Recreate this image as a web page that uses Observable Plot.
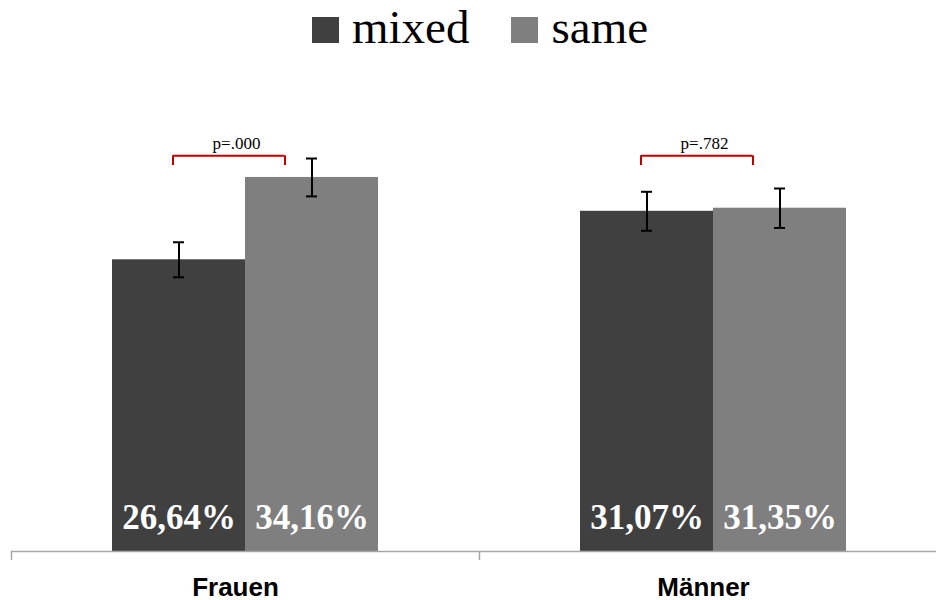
<!DOCTYPE html>
<html><head><meta charset="utf-8">
<script src="https://cdn.jsdelivr.net/npm/d3@7"></script>
<script src="https://cdn.jsdelivr.net/npm/@observablehq/plot@0.6"></script>
<style>
body{margin:0;background:#fff;overflow:hidden;width:936px;height:600px}
#legend{height:60px;box-sizing:border-box;padding:4px 0 0 312px;font-family:"Liberation Serif",serif;font-size:47px;line-height:46px;white-space:nowrap;color:#000}
.sw{display:inline-block;width:27px;height:26px;margin-right:13px}
.item{display:inline-block;margin-right:42px}
</style></head><body>
<div id="legend"></div>
<div id="chart"></div>
<script>
const categories = ["Frauen", "Männer"];
const seriesNames = ["mixed", "same"];
const seriesColors = ["#404040", "#7f7f7f"];
const mixedValues = [26.64, 31.07];
const sameValues = [34.16, 31.35];
const mixedErrors = [1.6, 1.78];
const sameErrors = [1.73, 1.8];
const pLabels = ["p=.000", "p=.782"];

const rows = categories.flatMap((c, i) => [
  {category: c, series: "mixed", value: mixedValues[i], err: mixedErrors[i]},
  {category: c, series: "same", value: sameValues[i], err: sameErrors[i]}
]);
const pRows = categories.map((c, i) => ({category: c, p: pLabels[i]}));
const fmt = v => v.toFixed(2).replace(".", ",") + "%";

// legend
const legend = document.getElementById("legend");
seriesNames.forEach((s, i) => {
  const it = document.createElement("span");
  it.className = "item";
  const sw = document.createElement("span");
  sw.className = "sw";
  sw.style.background = seriesColors[i];
  it.appendChild(sw);
  it.appendChild(document.createTextNode(s));
  legend.appendChild(it);
});

const red = "#c00000";
const chart = Plot.plot({
  width: 936,
  height: 540,
  marginTop: 53,
  marginBottom: 49,
  marginLeft: 0,
  marginRight: 0,
  style: {fontFamily: "Liberation Serif, serif", background: "white"},
  fx: {domain: categories, range: [11, 947], padding: 0},
  x: {domain: seriesNames, paddingInner: 0, paddingOuter: 0.7463, axis: null},
  y: {domain: [0, 40], axis: null},
  color: {domain: seriesNames, range: seriesColors},
  marks: [
    Plot.barY(rows, {fx: "category", x: "series", y: "value", fill: "series"}),
    Plot.ruleY([0], {stroke: "#a6a6a6", strokeWidth: 1.5}),
    Plot.axisFx({anchor: "bottom", tickSize: 9, tickFormat: () => "", dx: -234, stroke: "#a6a6a6", strokeWidth: 1.5, label: null}),
    Plot.ruleX(rows, {fx: "category", x: "series", y1: d => d.value - d.err, y2: d => d.value + d.err, stroke: "black", strokeWidth: 2}),
    Plot.tickY(rows, {fx: "category", x: "series", y: d => d.value - d.err, stroke: "black", strokeWidth: 2, insetLeft: 61, insetRight: 61}),
    Plot.tickY(rows, {fx: "category", x: "series", y: d => d.value + d.err, stroke: "black", strokeWidth: 2, insetLeft: 61, insetRight: 61}),
    Plot.text(rows, {fx: "category", x: "series", y: 0, text: d => fmt(d.value), fill: "white", fontSize: 35, fontWeight: "bold", fontFamily: "Liberation Serif", lineAnchor: "bottom", dy: -23}),
    Plot.ruleY(pRows, {fx: "category", x1: () => "mixed", x2: () => "same", y: 36.15, stroke: red, strokeWidth: 2, insetLeft: 61, insetRight: 94}),
    Plot.ruleX(pRows, {fx: "category", x: () => "mixed", y1: 35.25, y2: 36.15, dx: -6, stroke: red, strokeWidth: 2}),
    Plot.ruleX(pRows, {fx: "category", x: () => "same", y1: 35.25, y2: 36.15, dx: -27, stroke: red, strokeWidth: 2}),
    Plot.text(pRows, {fx: "category", text: "p", y: 36.75, dx: -9, fontSize: 17, fontFamily: "Liberation Serif", lineAnchor: "bottom", fill: "black"}),
    Plot.text(categories, {fx: d => d, text: d => d, frameAnchor: "bottom", lineAnchor: "bottom", dy: 44, dx: -10, fontSize: 26, fontWeight: "bold", fontFamily: "Liberation Sans, Arial, sans-serif", fill: "black"})
  ]
});
document.getElementById("chart").appendChild(chart);
</script>
</body></html>
